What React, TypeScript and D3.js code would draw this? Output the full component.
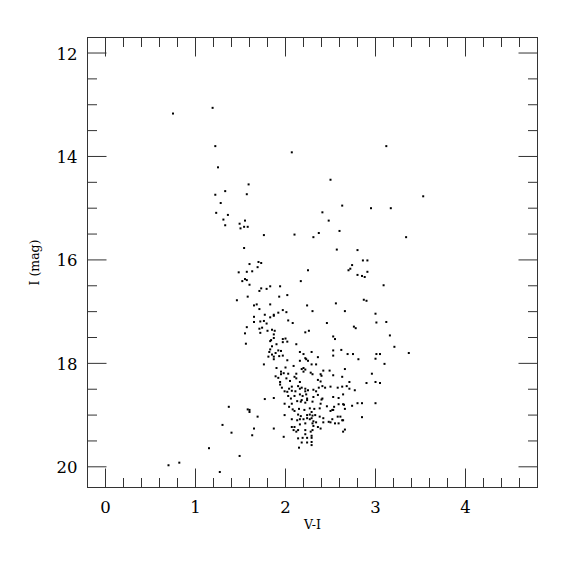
import React, { useEffect, useRef } from "react";
import * as d3 from "d3";

// V-I colour, I magnitude pairs
const brightStars = [
  [0.75, 13.17], [1.19, 13.06], [1.22, 13.8], [1.25, 14.21], [1.59, 14.54], [1.33, 14.67],
  [1.22, 14.74], [1.57, 14.73], [1.28, 14.9], [1.23, 15.09], [1.36, 15.13], [1.31, 15.22],
  [1.33, 15.33], [1.55, 15.24], [1.49, 15.3], [1.5, 15.39], [1.54, 15.36], [1.58, 15.36],
  [2.07, 13.92], [2.5, 14.45], [2.41, 15.08], [2.48, 15.24], [2.6, 15.44], [2.37, 15.48],
  [3.12, 13.8], [3.53, 14.77], [2.63, 14.95], [2.95, 15.0], [3.17, 15.0],
];

const upperBranch = [
  [1.76, 15.52], [1.54, 15.77], [1.6, 16.08], [1.7, 16.04], [1.73, 16.06], [1.69, 16.14],
  [1.48, 16.24], [1.57, 16.23], [1.63, 16.22], [1.52, 16.41], [1.55, 16.37], [1.57, 16.39],
  [1.6, 16.48], [1.73, 16.55], [1.79, 16.56], [1.83, 16.51], [1.94, 16.51], [2.1, 15.51],
  [2.31, 15.56], [2.57, 15.8], [2.25, 16.2], [2.17, 16.41], [3.34, 15.56], [2.8, 15.81],
  [3.09, 16.49], [1.71, 16.6], [2.02, 16.68], [1.93, 16.71], [1.58, 16.71], [1.46, 16.78],
  [1.65, 16.88], [1.68, 16.86], [1.83, 16.86], [2.24, 16.88], [2.56, 16.84], [1.71, 16.95],
  [1.97, 16.97],
];

const redClump = [
  [2.86, 16.01], [2.91, 16.01], [2.74, 16.1], [2.72, 16.17], [2.7, 16.2], [2.8, 16.29],
  [2.85, 16.31], [2.88, 16.33], [2.91, 16.23], [2.87, 16.77], [2.9, 16.79],
];

const middleBranch = [
  [2.3, 16.99], [2.66, 16.99], [3.0, 17.04], [2.01, 17.01], [1.92, 17.02], [1.87, 17.06],
  [1.77, 17.06], [1.65, 17.1], [1.83, 17.11], [1.87, 17.08], [1.65, 17.2], [1.72, 17.19],
  [1.76, 17.18], [1.79, 17.23], [1.57, 17.3], [1.71, 17.33], [1.74, 17.31], [1.8, 17.37],
  [1.85, 17.35], [1.88, 17.37], [1.72, 17.41], [1.55, 17.42], [1.87, 17.44], [1.84, 17.55],
  [1.83, 17.57], [1.87, 17.51], [1.56, 17.62], [1.9, 17.63], [1.85, 17.67], [1.83, 17.73],
  [1.82, 17.78], [1.92, 17.75], [1.89, 17.8], [1.85, 17.83], [1.81, 17.87], [1.87, 17.87],
  [1.93, 17.86], [1.87, 17.92], [1.76, 18.02], [1.9, 18.09], [1.89, 18.25], [1.92, 18.28],
  [1.94, 18.41],
  [2.03, 17.17], [2.08, 17.22], [2.46, 17.22], [2.22, 17.4], [2.26, 17.37], [2.53, 17.48],
  [2.55, 17.53], [1.97, 17.53], [2.0, 17.52], [1.97, 17.59], [2.02, 17.58], [2.12, 17.63],
  [2.53, 17.75], [2.62, 17.74], [1.95, 17.76], [2.16, 17.78], [2.2, 17.82], [2.29, 17.78],
  [2.53, 17.85], [2.69, 17.82], [1.97, 17.85], [2.22, 17.9], [2.23, 17.92], [2.25, 17.95],
  [2.36, 17.88], [2.16, 17.95], [2.02, 17.94], [2.29, 18.02], [2.34, 18.02], [2.09, 18.05],
  [2.0, 18.08], [2.42, 18.14], [2.49, 18.14], [2.66, 18.11], [2.18, 18.11], [2.2, 18.09],
  [2.22, 18.12], [2.2, 18.16], [2.28, 18.18], [2.3, 18.21], [2.39, 18.21], [2.4, 18.24],
  [2.53, 18.23], [2.63, 18.26], [1.95, 18.16], [1.95, 18.21], [1.98, 18.19], [2.03, 18.2],
  [2.12, 18.2], [2.1, 18.26], [2.01, 18.29], [2.12, 18.29], [1.94, 18.36], [2.05, 18.34],
  [2.16, 18.36], [2.36, 18.32], [2.39, 18.35], [2.71, 18.36],
  [3.01, 17.21], [3.12, 17.2], [2.76, 17.29], [2.78, 17.32], [3.16, 17.46], [3.21, 17.68],
  [3.37, 17.8], [2.75, 17.82], [3.01, 17.82], [3.05, 17.82], [2.81, 17.92], [3.0, 17.91],
  [3.1, 18.01], [2.96, 18.2], [2.9, 18.38], [3.0, 18.36], [3.05, 18.38],
];

const mainClump = [
  [1.96, 18.47], [1.99, 18.54], [2.02, 18.55], [2.04, 18.49], [2.07, 18.45], [2.07, 18.53],
  [2.11, 18.54], [2.14, 18.44], [2.16, 18.49], [2.18, 18.47], [2.22, 18.49], [2.22, 18.54],
  [2.25, 18.52], [2.31, 18.51], [2.34, 18.54], [2.37, 18.47], [2.41, 18.44], [2.44, 18.47],
  [2.5, 18.45], [2.58, 18.47], [2.63, 18.45], [2.68, 18.44],
  [2.03, 18.63], [2.06, 18.68], [2.1, 18.63], [2.16, 18.6], [2.19, 18.63], [2.23, 18.6],
  [2.24, 18.68], [2.31, 18.65], [2.36, 18.61], [2.4, 18.7], [2.41, 18.68], [2.53, 18.65],
  [2.59, 18.67], [2.64, 18.6], [2.71, 18.49],
  [1.99, 18.78], [2.07, 18.78], [2.13, 18.73], [2.17, 18.74], [2.18, 18.71], [2.22, 18.76],
  [2.24, 18.71], [2.3, 18.74], [2.39, 18.78], [2.46, 18.83], [2.52, 18.9], [2.54, 18.84],
  [2.59, 18.79], [2.64, 18.79],
  [2.04, 18.84], [2.08, 18.89], [2.1, 18.92], [2.15, 18.88], [2.21, 18.9], [2.27, 18.87],
  [2.32, 18.88], [2.38, 18.87], [2.5, 18.92], [2.53, 18.9], [2.66, 18.88],
  [1.99, 19.0], [2.14, 18.99], [2.17, 19.02], [2.24, 19.0], [2.27, 18.99], [2.29, 18.94],
  [2.3, 19.01], [2.33, 19.0], [2.38, 19.03], [2.42, 19.06], [2.48, 19.13], [2.52, 19.08],
  [2.58, 19.03], [2.61, 19.03], [2.63, 19.1], [2.64, 19.1],
  [2.07, 19.08], [2.13, 19.1], [2.16, 19.08], [2.2, 19.08], [2.24, 19.06], [2.27, 19.08],
  [2.29, 19.06], [2.31, 19.12], [2.34, 19.14], [2.42, 19.14], [2.5, 19.14], [2.55, 19.16],
  [2.59, 19.16],
  [2.07, 19.23], [2.1, 19.23], [2.16, 19.18], [2.22, 19.16], [2.3, 19.16], [2.31, 19.21],
  [2.36, 19.23], [2.64, 19.32], [2.66, 19.28],
  [2.09, 19.29], [2.14, 19.29], [2.22, 19.29], [2.3, 19.29], [2.39, 19.26],
  [2.12, 19.32], [2.22, 19.37], [2.28, 19.32], [2.29, 19.4],
  [2.14, 19.45], [2.19, 19.44], [2.24, 19.44], [2.29, 19.44], [1.98, 19.42],
  [2.18, 19.53], [2.24, 19.53], [2.29, 19.52], [2.15, 19.63], [2.29, 19.58],
  [2.77, 18.52], [2.65, 18.8], [2.74, 18.82], [2.8, 18.77], [2.85, 18.77], [3.0, 18.77],
  [2.85, 19.04],
];

const faintStars = [
  [1.77, 18.69], [1.87, 18.67], [1.37, 18.84], [1.58, 18.89], [1.6, 18.9], [1.6, 18.94],
  [1.69, 19.03], [1.3, 19.19], [1.65, 19.26], [1.87, 19.26], [1.4, 19.34], [1.63, 19.39],
  [1.49, 19.79], [0.7, 19.97], [0.82, 19.92], [1.15, 19.64], [1.27, 20.1],
];

const xTickLabels = [0, 1, 2, 3, 4];
const yTickLabels = [12, 14, 16, 18, 20];

export default function App() {
  const ref = useRef<SVGSVGElement>(null);

  useEffect(() => {
    const margin = { top: 37.5, left: 87.5 };
    const width = 450;
    const height = 450;

    const svg = d3.select(ref.current);
    svg.selectAll("*").remove();
    const g = svg
      .append("g")
      .attr("transform", `translate(${margin.left},${margin.top})`);

    const x = d3.scaleLinear().domain([-0.2, 4.8]).range([0, width]);
    const y = d3.scaleLinear().domain([11.7, 20.4]).range([0, height]);

    const ink = "#333";
    const major = 19;
    const minor = 9.5;

    // frame
    g.append("rect")
      .attr("width", width)
      .attr("height", height)
      .attr("fill", "none")
      .attr("stroke", ink)
      .attr("stroke-width", 1);

    // x ticks, bottom and top
    const xMinor = d3.range(0.2, 4.7, 0.2).filter((v) => Math.abs(v - Math.round(v)) > 0.01);
    const xTicks = [
      ...xTickLabels.map((v) => ({ v, len: major })),
      ...xMinor.map((v) => ({ v, len: minor })),
    ];
    xTicks.forEach((t) => {
      g.append("line")
        .attr("x1", x(t.v)).attr("x2", x(t.v))
        .attr("y1", height).attr("y2", height - t.len)
        .attr("stroke", ink);
      g.append("line")
        .attr("x1", x(t.v)).attr("x2", x(t.v))
        .attr("y1", 0).attr("y2", t.len)
        .attr("stroke", ink);
    });

    // y ticks, left and right
    const yMinor = d3.range(12.5, 20, 0.5).filter((v) => v % 2 !== 0);
    const yTicks = [
      ...yTickLabels.map((v) => ({ v, len: major })),
      ...yMinor.map((v) => ({ v, len: minor })),
    ];
    yTicks.forEach((t) => {
      g.append("line")
        .attr("x1", 0).attr("x2", t.len)
        .attr("y1", y(t.v)).attr("y2", y(t.v))
        .attr("stroke", ink);
      g.append("line")
        .attr("x1", width).attr("x2", width - t.len)
        .attr("y1", y(t.v)).attr("y2", y(t.v))
        .attr("stroke", ink);
    });

    const font = "DejaVu Serif, serif";

    g.selectAll(".xl")
      .data(xTickLabels)
      .enter()
      .append("text")
      .attr("x", (d) => x(d))
      .attr("y", height + 25)
      .attr("text-anchor", "middle")
      .style("font-family", font)
      .style("font-size", "16.5px")
      .style("fill", "#000")
      .text((d) => d);

    g.selectAll(".yl")
      .data(yTickLabels)
      .enter()
      .append("text")
      .attr("x", -10)
      .attr("y", (d) => y(d) + 6.5)
      .attr("text-anchor", "end")
      .style("font-family", font)
      .style("font-size", "16.5px")
      .style("fill", "#000")
      .text((d) => d);

    g.append("text")
      .attr("x", width / 2)
      .attr("y", height + 41.5)
      .attr("text-anchor", "middle")
      .style("font-family", font)
      .style("font-size", "12.5px")
      .style("fill", "#000")
      .text("V-I");

    g.append("text")
      .attr("transform", `translate(${-49},${height / 2}) rotate(-90)`)
      .attr("text-anchor", "middle")
      .style("font-family", font)
      .style("font-size", "12.5px")
      .style("fill", "#000")
      .text("I (mag)");

    const stars = [
      ...brightStars,
      ...upperBranch,
      ...redClump,
      ...middleBranch,
      ...mainClump,
      ...faintStars,
    ];

    g.selectAll(".star")
      .data(stars)
      .enter()
      .append("rect")
      .attr("x", (d) => x(d[0]) - 1)
      .attr("y", (d) => y(d[1]) - 1)
      .attr("width", 2)
      .attr("height", 2)
      .attr("fill", "#000");
  }, []);

  return (
    <svg
      ref={ref}
      width={575}
      height={575}
      style={{ position: "absolute", left: 0, top: 0, background: "#fff" }}
    />
  );
}
